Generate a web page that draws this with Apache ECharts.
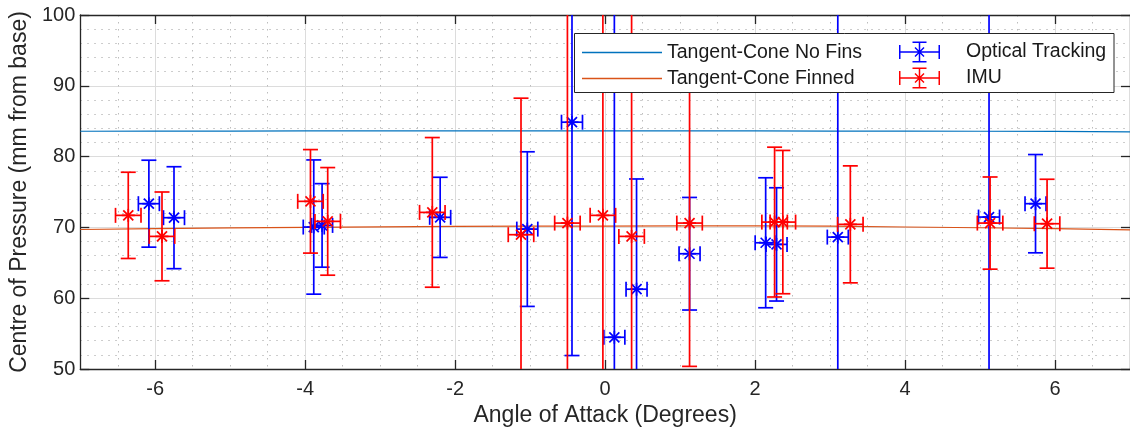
<!DOCTYPE html>
<html><head><meta charset="utf-8">
<script src="https://cdn.jsdelivr.net/npm/echarts@6/dist/echarts.min.js"></script>
<style>html,body{margin:0;padding:0;background:#fff}#c{width:1130px;height:433px}</style>
</head><body><div id="c"></div>
<script>
// ---- data ----
const xTicks = [-6, -4, -2, 0, 2, 4, 6];
const curveX = [-7, -6, -5, -4, -3, -2, -1, 0, 1, 2, 3, 4, 5, 6, 7];
const noFins = [83.58, 83.6, 83.61, 83.62, 83.63, 83.63, 83.63, 83.63, 83.63, 83.62, 83.61, 83.6, 83.58, 83.55, 83.5];
const finned = [69.7, 69.82, 69.92, 70.0, 70.08, 70.14, 70.17, 70.19, 70.21, 70.22, 70.18, 70.06, 69.95, 69.82, 69.66];

const otX    = [-6.085, -5.75, -3.886, -3.775, -2.2, -1.038, -0.442, 0.123, 0.419, 1.126, 2.141, 2.286, 3.103, 5.12, 5.74];
const otY    = [73.35, 71.37, 70.05, 70.28, 71.42, 69.76, 84.86, 54.48, 61.27, 66.28, 67.83, 67.6, 68.63, 71.46, 73.35];
const otXErr = [0.14, 0.14, 0.14, 0.14, 0.14, 0.14, 0.14, 0.14, 0.14, 0.14, 0.14, 0.14, 0.14, 0.14, 0.14];
const otYErr = [6.14, 7.2, 9.48, 5.9, 5.66, 10.92, 32.96, 48, 15.57, 7.95, 9.18, 8.0, 35, 32, 6.94];

const imuX    = [-6.36, -5.91, -3.93, -3.7, -2.305, -1.122, -0.503, -0.03, 0.353, 1.126, 2.26, 2.37, 3.27, 5.134, 5.894];
const imuY    = [71.7, 68.73, 73.68, 70.85, 72.12, 68.97, 70.61, 71.7, 68.73, 70.61, 70.75, 70.75, 70.43, 70.61, 70.52];
const imuXErr = [0.17, 0.17, 0.17, 0.17, 0.17, 0.17, 0.17, 0.17, 0.17, 0.17, 0.17, 0.17, 0.17, 0.17, 0.17];
const imuYErr = [6.09, 6.27, 7.31, 7.6, 10.57, 19.28, 33, 31, 34, 20.24, 10.58, 10.12, 8.26, 6.51, 6.28];

// ---- chart ----
const FONT = 'Liberation Sans, Arial, Helvetica, sans-serif';
const AX = '#262626';
const Y_MIN = 50, Y_MAX = 100;

function makeRender(color) {
  return function (params, api) {
    const x = api.value(0), y = api.value(1), xe = api.value(2), ye = api.value(3);
    const top = Math.min(y + ye, Y_MAX), bot = Math.max(y - ye, Y_MIN);
    const pT = api.coord([x, top]), pB = api.coord([x, bot]);
    const pL = api.coord([x - xe, y]), pR = api.coord([x + xe, y]);
    const c = api.coord([x, y]);
    const style = { stroke: color, lineWidth: 1.7, fill: null };
    const cap = 7.5, hcap = 7.5, r = 6.5, d = 5;
    const ch = [];
    const line = (x1, y1, x2, y2) => ch.push({ type: 'line', shape: { x1, y1, x2, y2 }, style });
    line(pT[0], pT[1], pB[0], pB[1]);
    if (y + ye <= Y_MAX) line(pT[0] - cap, pT[1], pT[0] + cap, pT[1]);
    if (y - ye >= Y_MIN) line(pB[0] - cap, pB[1], pB[0] + cap, pB[1]);
    line(pL[0], pL[1], pR[0], pR[1]);
    line(pL[0], pL[1] - hcap, pL[0], pL[1] + hcap);
    line(pR[0], pR[1] - hcap, pR[0], pR[1] + hcap);
    line(c[0] - r, c[1], c[0] + r, c[1]);
    line(c[0], c[1] - r, c[0], c[1] + r);
    line(c[0] - d, c[1] - d, c[0] + d, c[1] + d);
    line(c[0] - d, c[1] + d, c[0] + d, c[1] - d);
    return { type: 'group', children: ch };
  };
}

const ebIcon = 'path://M0 9.75 H41 V11.25 H0 Z M0 3.5 H1.5 V17.5 H0 Z M39.5 3.5 H41 V17.5 H39.5 Z ' +
  'M19.75 0 H21.25 V21 H19.75 Z M13.5 0 H27.5 V1.5 H13.5 Z M13.5 19.5 H27.5 V21 H13.5 Z ' +
  'M15.5 6.5 L16.5 5.5 L25.5 14.5 L24.5 15.5 Z M24.5 5.5 L25.5 6.5 L16.5 15.5 L15.5 14.5 Z';
const lineIcon = 'path://M0 0 H80 V1.3 H0 Z';

const axLine = { show: true, onZero: false, lineStyle: { color: AX, width: 1.3 } };
const tickStyle = { color: AX, width: 1.3 };
const minorDot = { color: '#bdbdbd', width: 1, type: [1.5, 5.5] };

const option = {
  animation: false,
  grid: { left: 78, top: 15, right: -5, bottom: 64, containLabel: false },
  xAxis: [
    {
      type: 'value', min: -7, max: 7, interval: 0.5, position: 'bottom',
      axisLine: axLine,
      axisTick: { show: true, inside: true, length: 9, customValues: xTicks, lineStyle: tickStyle },
      axisLabel: { customValues: xTicks, fontSize: 20, color: AX, margin: 10, fontFamily: FONT },
      splitLine: { show: true, lineStyle: { color: '#dcdcdc', width: 1 } },
      name: 'Angle of Attack (Degrees)', nameLocation: 'middle', nameGap: 35,
      nameTextStyle: { fontSize: 23, color: AX, fontFamily: FONT }
    },
    {
      type: 'value', min: -7, max: 7, interval: 0.5, position: 'bottom',
      axisLine: { show: false }, axisTick: { show: false }, axisLabel: { show: false },
      splitLine: { show: true, lineStyle: Object.assign({}, minorDot, { color: ['#bdbdbd', '#bdbdbd', 'rgba(0,0,0,0)', '#bdbdbd'] }) }
    },
    {
      type: 'value', min: -7, max: 7, interval: 0.5, position: 'top',
      axisLine: axLine,
      axisTick: { show: true, inside: true, length: 9, customValues: xTicks, lineStyle: tickStyle },
      axisLabel: { show: false }, splitLine: { show: false }
    }
  ],
  yAxis: [
    {
      type: 'value', min: 50, max: 100, interval: 10, position: 'left',
      axisLine: axLine,
      axisTick: { show: true, inside: true, length: 9, lineStyle: tickStyle },
      axisLabel: { fontSize: 20, color: AX, margin: 5, fontFamily: FONT },
      splitLine: { show: true, lineStyle: { color: '#dcdcdc', width: 1 } },
      minorTick: { show: false, splitNumber: 5 },
      minorSplitLine: { show: true, lineStyle: minorDot },
      name: 'Centre of Pressure (mm from base)', nameLocation: 'middle', nameGap: 43,
      nameTextStyle: { fontSize: 23, color: AX, fontFamily: FONT }
    },
    {
      type: 'value', min: 50, max: 100, interval: 10, position: 'right',
      axisLine: axLine,
      axisTick: { show: true, inside: true, length: 9, lineStyle: tickStyle },
      axisLabel: { show: false }, splitLine: { show: false }
    }
  ],
  legend: [
    {
      data: [{ name: 'Tangent-Cone No Fins', icon: lineIcon }, { name: 'Tangent-Cone Finned', icon: lineIcon }],
      orient: 'vertical', left: 582, top: 42.5, itemWidth: 80, itemHeight: 14, itemGap: 6,
      selectedMode: false, z: 60, padding: 0,
      textStyle: { fontSize: 19.5, color: '#1a1a1a', fontFamily: FONT }
    },
    {
      data: [{ name: 'Optical Tracking', icon: ebIcon }, { name: 'IMU', icon: ebIcon }],
      orient: 'vertical', left: 899, top: 41.5, itemWidth: 41, itemHeight: 21, itemGap: 5,
      selectedMode: false, z: 60, padding: 0,
      textStyle: { fontSize: 19.5, color: '#1a1a1a', fontFamily: FONT, padding: [0, 0, 0, 21] }
    }
  ],
  graphic: [
    { type: 'rect', z: 50, shape: { x: 574.5, y: 33.5, width: 539.5, height: 59 },
      style: { fill: '#fff', stroke: AX, lineWidth: 1 } }
  ],
  series: [
    {
      type: 'line', name: 'Tangent-Cone No Fins', symbol: 'none', z: 2,
      data: curveX.map((x, i) => [x, noFins[i]]),
      lineStyle: { color: '#0072BD', width: 1.2 }, itemStyle: { color: '#0072BD' }
    },
    {
      type: 'line', name: 'Tangent-Cone Finned', symbol: 'none', z: 2,
      data: curveX.map((x, i) => [x, finned[i]]),
      lineStyle: { color: '#D95319', width: 1.2 }, itemStyle: { color: '#D95319' }
    },
    {
      type: 'custom', name: 'Optical Tracking', z: 3,
      renderItem: makeRender('#0000ff'),
      encode: { x: 0, y: 1 },
      itemStyle: { color: '#0000ff' },
      data: otX.map((x, i) => [x, otY[i], otXErr[i], otYErr[i]])
    },
    {
      type: 'custom', name: 'IMU', z: 4,
      renderItem: makeRender('#ff0000'),
      encode: { x: 0, y: 1 },
      itemStyle: { color: '#ff0000' },
      data: imuX.map((x, i) => [x, imuY[i], imuXErr[i], imuYErr[i]])
    }
  ]
};

const chart = echarts.init(document.getElementById('c'), null, { renderer: 'canvas' });
chart.setOption(option);
</script>
</body></html>
